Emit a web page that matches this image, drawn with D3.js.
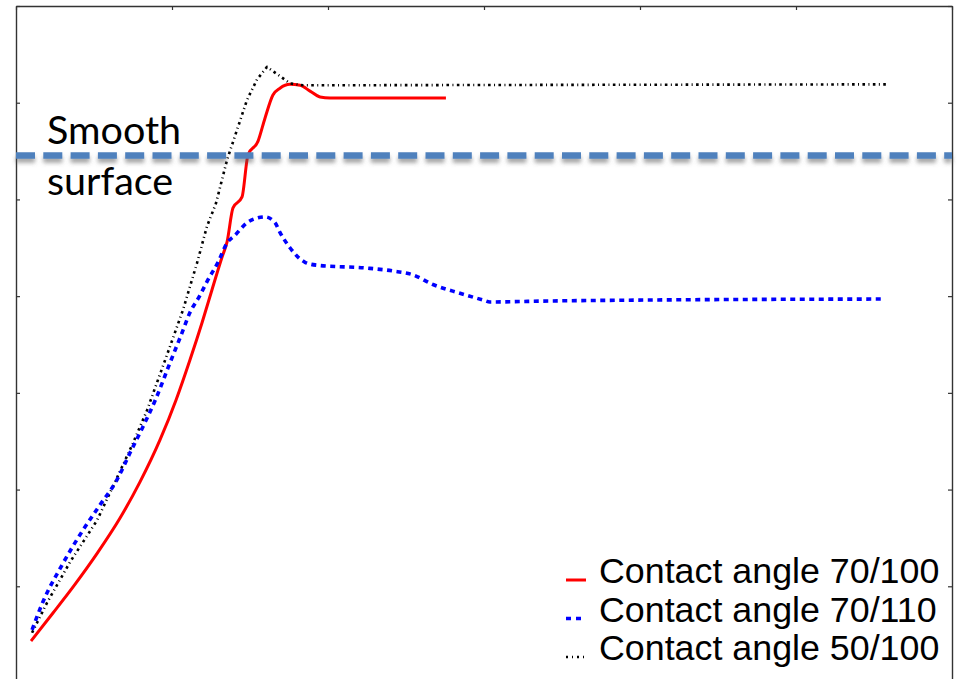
<!DOCTYPE html>
<html>
<head>
<meta charset="utf-8">
<script src="https://cdn.jsdelivr.net/npm/d3@7/dist/d3.min.js"></script>
<style>
  html, body { margin: 0; padding: 0; background: #fff; }
  svg { display: block; }
</style>
</head>
<body>
<svg id="chart" width="957" height="679"></svg>
<script>
// Series: contact-angle runs (x, y in axis units)
const red70_100 = [
  [0.096,0.434],[0.237,0.724],[0.378,1.020],[0.519,1.338],[0.667,1.706],[0.795,2.079],
  [0.923,2.513],[1.026,2.927],[1.115,3.340],[1.192,3.723],[1.256,4.064],[1.321,4.405],
  [1.353,4.561],[1.391,4.912],[1.449,5.026],[1.487,5.46],[1.551,5.60],
  [1.596,5.84],[1.647,6.08],[1.692,6.15],[1.756,6.19],[1.821,6.18],[1.885,6.12],
  [1.949,6.06],[2.013,6.05],[2.756,6.05]
];
const blue70_110 = [
  [0.103,0.55],[0.173,0.84],[0.295,1.22],[0.429,1.58],[0.538,1.84],[0.647,2.10],
  [0.731,2.38],[0.814,2.65],[0.897,2.94],[0.987,3.31],[1.064,3.62],[1.115,3.83],
  [1.173,3.99],[1.231,4.17],[1.295,4.35],[1.353,4.55],[1.404,4.63],[1.481,4.76],
  [1.551,4.81],[1.596,4.82],[1.660,4.76],[1.692,4.66],[1.756,4.50],[1.853,4.35],
  [1.929,4.32],[2.250,4.29],[2.417,4.26],[2.545,4.22],[2.673,4.12],[2.846,4.03],
  [2.994,3.96],[3.038,3.94],[3.423,3.95],[4.064,3.96],[5.551,3.97]
];
const black50_100 = [
  [0.103,0.52],[0.199,0.83],[0.346,1.25],[0.519,1.68],[0.647,2.12],[0.750,2.48],
  [0.840,2.82],[0.974,3.42],[1.071,3.86],[1.160,4.34],[1.224,4.72],
  [1.282,4.96],[1.353,5.41],[1.481,6.03],[1.545,6.24],[1.609,6.37],[1.679,6.29],
  [1.756,6.20],[1.840,6.18],[5.596,6.19]
];
const smoothSurfaceLevel = 5.455;
const xTicks = [0, 1, 2, 3, 4, 5, 6];
const yTicks = [0, 1, 2, 3, 4, 5, 6, 7];
const legendLabels = ["Contact angle 70/100", "Contact angle 70/110", "Contact angle 50/100"];
const surfaceLabel = ["Smooth", "surface"];

const svg = d3.select("#chart");
const plotLeft = 16, plotRight = 952, plotTop = 6, plotBottom = 683;

const x = d3.scaleLinear().domain([0, 6]).range([plotLeft, plotRight]);
const y = d3.scaleLinear().domain([0, 7]).range([plotBottom, plotTop]);

// drop shadow for the reference level line (user-space region: the line has no height)
const defs = svg.append("defs");
const f = defs.append("filter").attr("id", "shadow")
  .attr("filterUnits", "userSpaceOnUse")
  .attr("x", 0).attr("y", 120).attr("width", 957).attr("height", 80);
f.append("feDropShadow").attr("dx", 0).attr("dy", 4).attr("stdDeviation", 2.2)
  .attr("flood-color", "#555").attr("flood-opacity", 0.55);

// frame with inward ticks on all four sides
const frameColor = "#333";
function styleAxis(g) {
  g.selectAll("path.domain").attr("stroke", frameColor).attr("stroke-width", 1.4);
  g.selectAll(".tick line").attr("stroke", frameColor).attr("stroke-width", 1.2);
  g.selectAll(".tick text").remove();
}
svg.append("g").attr("transform", `translate(${plotLeft},0)`)
  .call(d3.axisRight(y).tickValues(yTicks).tickSize(4).tickSizeOuter(0).tickFormat(""))
  .call(styleAxis);
svg.append("g").attr("transform", `translate(${plotRight},0)`)
  .call(d3.axisLeft(y).tickValues(yTicks).tickSize(4).tickSizeOuter(0).tickFormat(""))
  .call(styleAxis);
svg.append("g").attr("transform", `translate(0,${plotTop})`)
  .call(d3.axisBottom(x).tickValues(xTicks).tickSize(4).tickSizeOuter(0).tickFormat(""))
  .call(styleAxis);
svg.append("g").attr("transform", `translate(0,${plotBottom})`)
  .call(d3.axisTop(x).tickValues(xTicks).tickSize(4).tickSizeOuter(0).tickFormat(""))
  .call(styleAxis);

const line = d3.line().x(d => x(d[0])).y(d => y(d[1]));
const smoothLine = d3.line().x(d => x(d[0])).y(d => y(d[1])).curve(d3.curveMonotoneX);

const series = [
  { data: red70_100, color: "#ff0000", width: 3, dash: null, gen: smoothLine },
  { data: black50_100, color: "#000000", width: 2.6, dash: "2.6,3.4,1,3.4", gen: line },
  { data: blue70_110, color: "#0000ff", width: 3.6, dash: "5,4.5", gen: smoothLine }
];
svg.append("g").selectAll("path").data(series).join("path")
  .attr("d", s => s.gen(s.data))
  .attr("fill", "none")
  .attr("stroke", s => s.color)
  .attr("stroke-width", s => s.width)
  .attr("stroke-dasharray", s => s.dash)
  .attr("stroke-linejoin", "round");

// smooth surface reference level
svg.append("line")
  .attr("x1", x(0)).attr("x2", x(6))
  .attr("y1", y(smoothSurfaceLevel)).attr("y2", y(smoothSurfaceLevel))
  .attr("stroke", "#4f81bd").attr("stroke-width", 6.5)
  .attr("stroke-dasharray", "19,8.3")
  .attr("filter", "url(#shadow)");

svg.append("g").selectAll("text").data(surfaceLabel).join("text")
  .attr("x", 47)
  .attr("y", (d, i) => 144 + i * 51)
  .attr("font-family", "Lato, 'Open Sans', sans-serif")
  .attr("font-size", 39.5)
  .attr("fill", "#000")
  .text(d => d);

// legend
const legendStyles = [
  { color: "#ff0000", width: 3, dash: null },
  { color: "#0000ff", width: 3.6, dash: "5,5" },
  { color: "#000000", width: 2.4, dash: "2,4,1,4" }
];
const lg = svg.append("g");
const rows = lg.selectAll("g").data(legendLabels).join("g")
  .attr("transform", (d, i) => `translate(0,${583 + i * 38.5})`);
rows.append("line")
  .attr("x1", 566).attr("x2", 586).attr("y1", -3).attr("y2", -3)
  .attr("stroke", (d, i) => legendStyles[i].color)
  .attr("stroke-width", (d, i) => legendStyles[i].width)
  .attr("stroke-dasharray", (d, i) => legendStyles[i].dash);
rows.append("text")
  .attr("x", 599).attr("y", 0)
  .attr("font-family", "'Liberation Sans', Arial, sans-serif")
  .attr("font-size", 35.8)
  .attr("fill", "#000")
  .text(d => d);
</script>
</body>
</html>
